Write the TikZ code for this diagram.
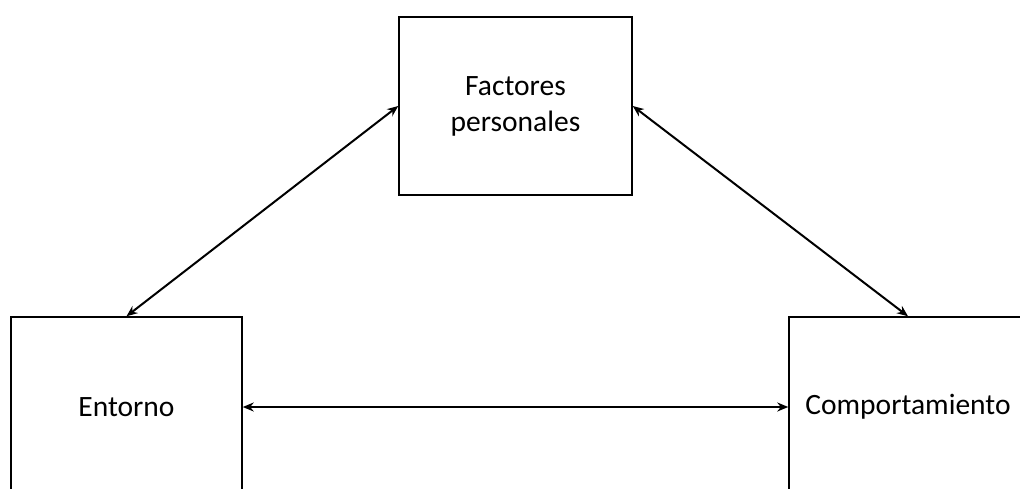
\documentclass[tikz,border=0pt]{standalone}
\usepackage{fontspec}
\setmainfont{Carlito}
\usetikzlibrary{arrows.meta}
\begin{document}
\begin{tikzpicture}[x=1pt,y=-1pt,
	box/.style={draw,line width=1.5pt,rectangle,minimum width=231pt,minimum height=180pt,align=center,font=\fontsize{29.5}{36}\selectfont},
	link/.style={{Stealth[length=11pt,width=9pt]}-{Stealth[length=11pt,width=9pt]},line width=2pt}]
		\clip (0,0) rectangle (1020,488);
		\node[box,minimum height=178pt,minimum width=233pt] (personal) at (515.5,106) {Factores\\personales};
		\node[box] (entorno) at (126.5,407) {Entorno};
		\node[box,minimum width=238pt] (comport) at (908,407) {Comportamiento};
		\draw[link] (personal.west)--(entorno.north);
		\draw[link] (personal.east)--(comport.north);
		\draw[link] (entorno.east)--(comport.west);
\end{tikzpicture}
\end{document}
